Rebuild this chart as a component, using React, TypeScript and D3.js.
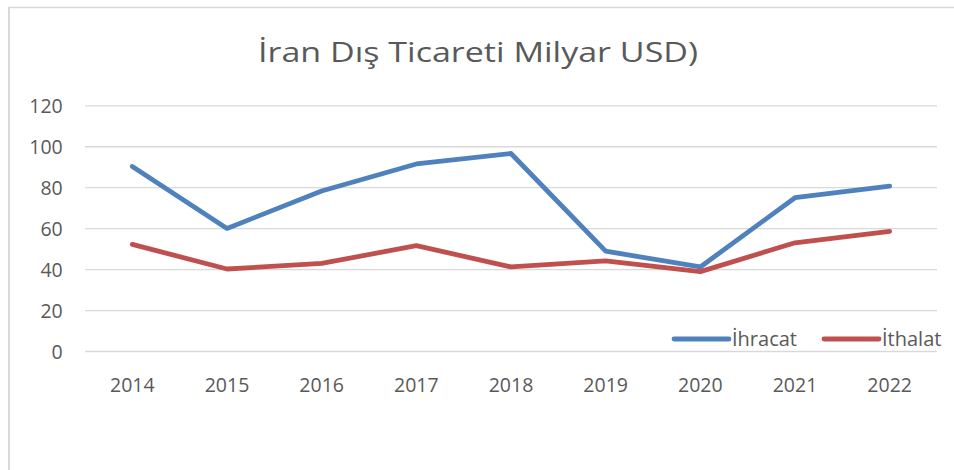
import React from "react";
import * as d3 from "d3";

const years = ["2014", "2015", "2016", "2017", "2018", "2019", "2020", "2021", "2022"];
const ihracat = [90.4, 60.1, 78.4, 91.6, 96.7, 49.0, 41.3, 75.1, 80.8];
const ithalat = [52.3, 40.3, 43.0, 51.7, 41.3, 44.3, 39.0, 53.1, 58.7];
const yTicks = [0, 20, 40, 60, 80, 100, 120];
const seriesNames = ["İhracat", "İthalat"];
const seriesColors = ["#4f81bd", "#c0504d"];
const title = "İran Dış Ticareti Milyar USD)";

const W = 954;
const H = 470;
const FONT = "'Open Sans', 'Noto Sans', sans-serif";

export default function App() {
  const x = d3.scaleBand<string>().domain(years).range([85, 937]);
  const y = d3.scaleLinear().domain([0, 120]).range([351.5, 105.8]);
  const line = d3
    .line<number>()
    .x((_, i) => (x(years[i]) as number) + x.bandwidth() / 2)
    .y((d) => y(d));
  const series = [ihracat, ithalat];
  const legendX = [674, 824];

  return (
    <svg
      width={W}
      height={H}
      style={{ position: "absolute", left: 0, top: 0, background: "#fff" }}
    >
      <rect x={0} y={0} width={W} height={H} fill="#fff" />
      <line x1={9} y1={7} x2={9} y2={H} stroke="#d9d9d9" strokeWidth={2} />
      <line x1={8} y1={7.5} x2={W} y2={7.5} stroke="#d9d9d9" strokeWidth={1.5} />
      <text
        x={478}
        y={62}
        textAnchor="middle"
        fontFamily={FONT}
        fontSize={28}
        fill="#595959"
        textLength={440}
        lengthAdjust="spacingAndGlyphs"
      >
        {title}
      </text>
      {yTicks.map((t) => (
        <g key={t}>
          <line x1={85} x2={937} y1={y(t)} y2={y(t)} stroke="#d9d9d9" strokeWidth={1.3} />
          <text
            x={62.7}
            y={y(t) + 7.5}
            textAnchor="end"
            fontFamily={FONT}
            fontSize={19.5}
            fill="#595959"
          >
            {t}
          </text>
        </g>
      ))}
      {years.map((yr) => (
        <text
          key={yr}
          x={(x(yr) as number) + x.bandwidth() / 2}
          y={391.5}
          textAnchor="middle"
          fontFamily={FONT}
          fontSize={19.5}
          fill="#595959"
        >
          {yr}
        </text>
      ))}
      {series.map((s, i) => (
        <path
          key={i}
          d={line(s) as string}
          fill="none"
          stroke={seriesColors[i]}
          strokeWidth={4.8}
          strokeLinecap="round"
          strokeLinejoin="round"
        />
      ))}
      {seriesNames.map((n, i) => (
        <g key={n}>
          <line
            x1={legendX[i]}
            x2={legendX[i] + 55}
            y1={339}
            y2={339}
            stroke={seriesColors[i]}
            strokeWidth={4.8}
            strokeLinecap="round"
          />
          <text
            x={legendX[i] + 58}
            y={345.5}
            fontFamily={FONT}
            fontSize={20}
            fill="#595959"
          >
            {n}
          </text>
        </g>
      ))}
    </svg>
  );
}
